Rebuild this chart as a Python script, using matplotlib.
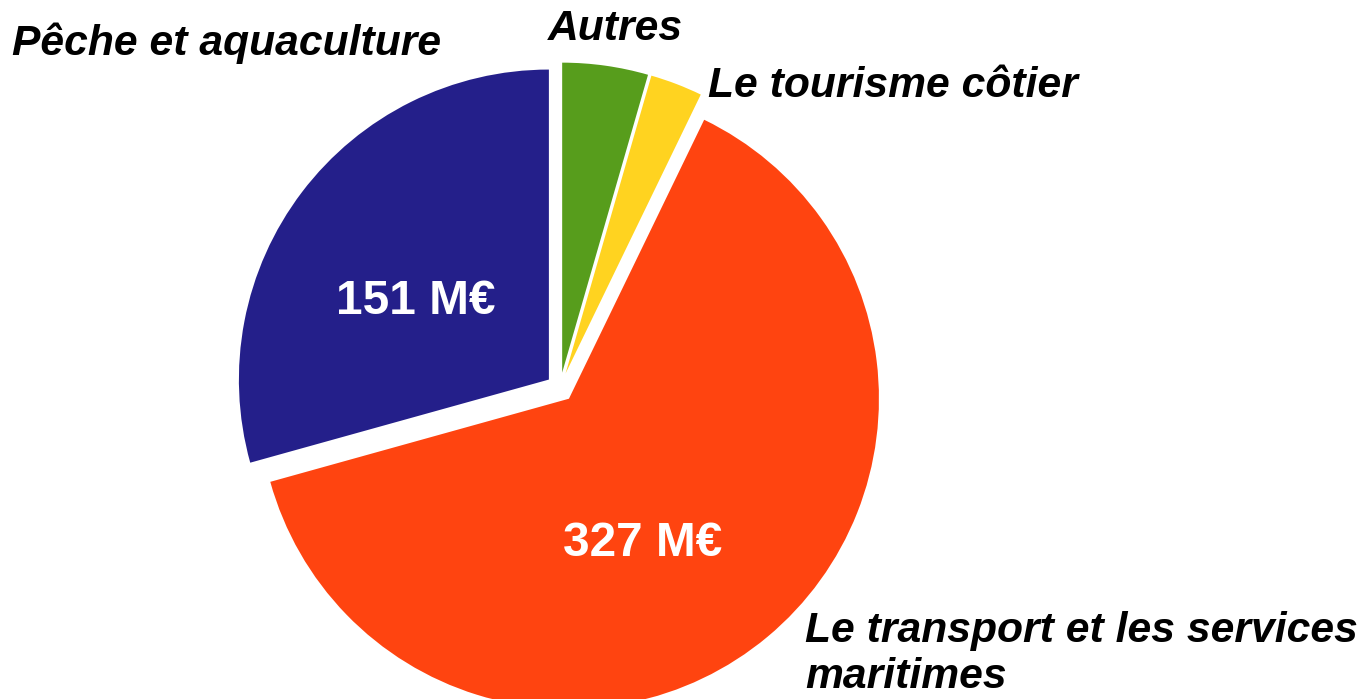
import numpy as np
import matplotlib
matplotlib.use('Agg')
import matplotlib.pyplot as plt

plt.rcParams['font.family'] = ['Liberation Sans', 'DejaVu Sans']

# =============================================================================
# DATA
# =============================================================================

labels = ['Autres', 'Le tourisme côtier',
          'Le transport et les services\nmaritimes', 'Pêche et aquaculture']
values = [23, 14, 327, 151]           # M€
value_labels = ['', '', '327 M€', '151 M€']
colors = ['#579d1c', '#ffd320', '#ff4410', '#241f8a']
explode = [0.05, 0.05, 0.045, 0.045]

# =============================================================================
# PLOT
# =============================================================================

W, H = 1359, 699
R = 310.0                 # pie radius in pixels
cx, cy = 560, 388         # pie centre in pixels (from top-left)

fig = plt.figure(figsize=(W / 100, H / 100), dpi=100)
ax = fig.add_axes([0, 0, 1, 1])

wedges, _ = ax.pie(values, colors=colors, explode=explode, startangle=90,
                   counterclock=False, radius=1,
                   wedgeprops=dict(linewidth=0))

ax.set_aspect('equal')
ax.set_xlim(-cx / R, (W - cx) / R)
ax.set_ylim(-(H - cy) / R, cy / R)
ax.axis('off')

labelsize = 30.7
valuesize = 34.4

# outside labels (left x, baseline y of last line in pixels)
label_pos = [(548, 40), (708, 97), (805, 688), (12, 55)]
for lab, (px, py) in zip(labels, label_pos):
    fig.text(px / W, 1 - py / H, lab, fontsize=labelsize, fontweight='bold',
             fontstyle='italic', ha='left', va='baseline', linespacing=1.2)

# values inside slices (centre in pixels)
value_pos = [None, None, (643, 543), (416, 302)]
for txt, pos in zip(value_labels, value_pos):
    if txt:
        fig.text(pos[0] / W, 1 - pos[1] / H, txt, fontsize=valuesize,
                 fontweight='bold', color='white', ha='center', va='center')

plt.savefig('out.png', dpi=100)
